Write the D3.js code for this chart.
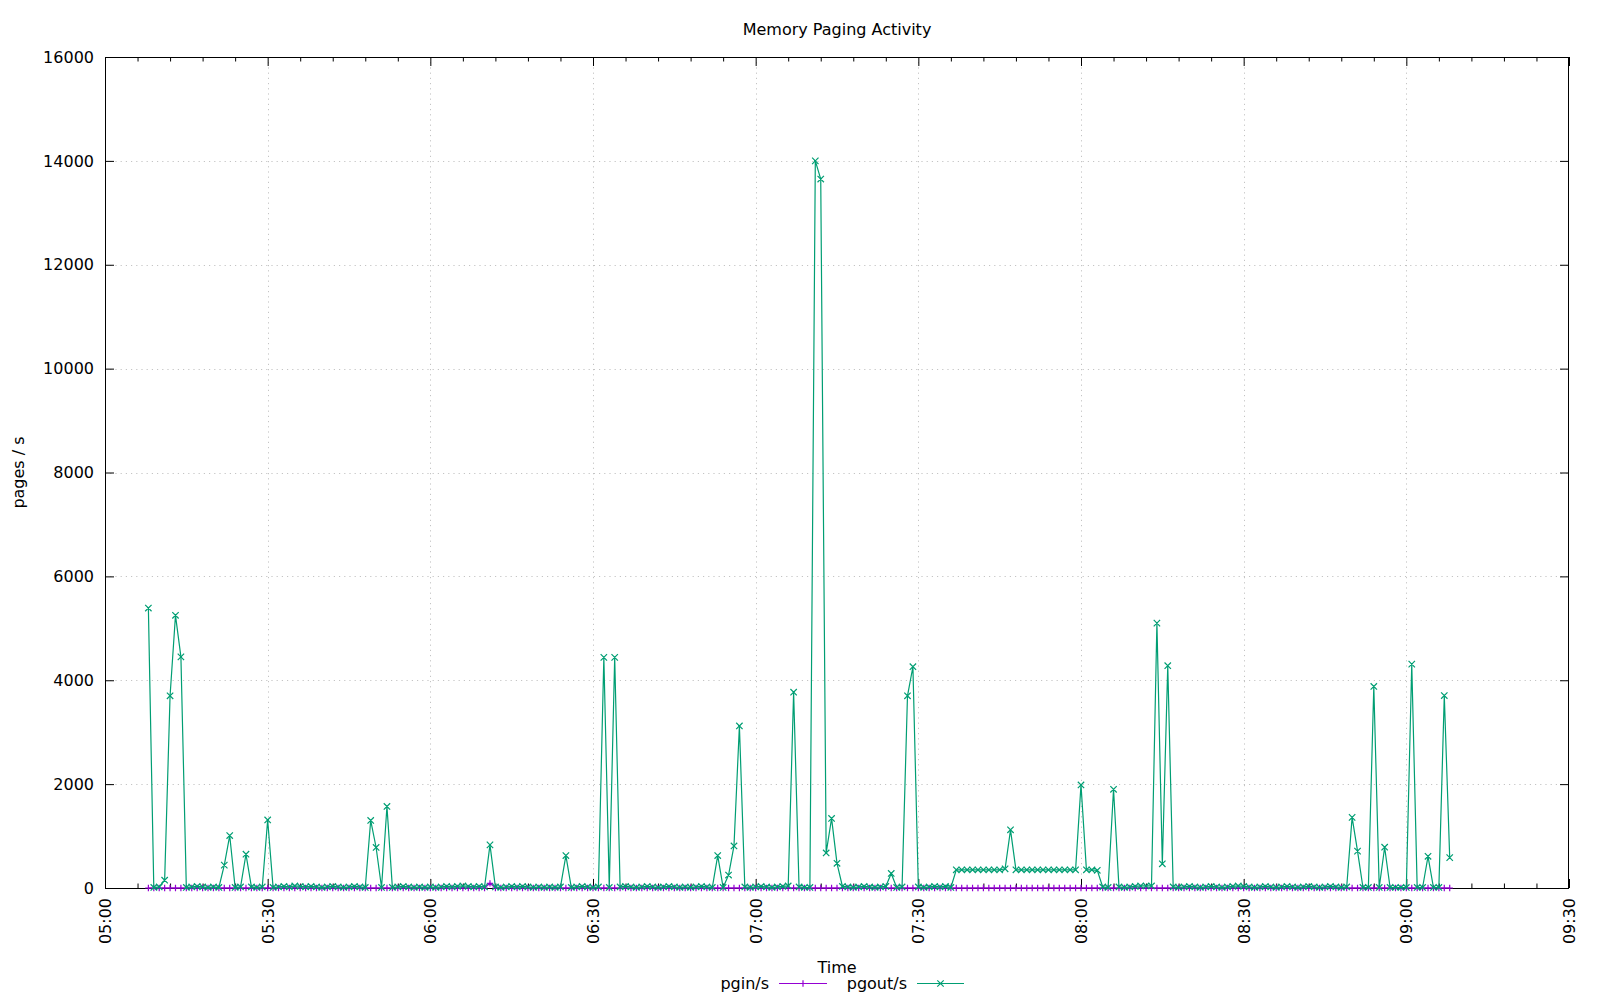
<!DOCTYPE html>
<html>
<head>
<meta charset="utf-8">
<script src="https://cdn.jsdelivr.net/npm/d3@7"></script>
<style>
  body { margin: 0; background: #fff; }
  svg text { font-family: "DejaVu Sans", sans-serif; font-size: 16px; fill: #000; }
</style>
</head>
<body>
<svg id="chart" width="1600" height="1000"></svg>
<script>
// ---------- DATA ----------
const times = [
  "05:08","05:09","05:10","05:11","05:12","05:13","05:14","05:15","05:16","05:17","05:18","05:19","05:20","05:21","05:22","05:23","05:24","05:25","05:26","05:27","05:28","05:29","05:30","05:31","05:32","05:33","05:34","05:35","05:36","05:37","05:38","05:39","05:40","05:41","05:42","05:43","05:44","05:45","05:46","05:47","05:48","05:49","05:50","05:51","05:52","05:53","05:54","05:55","05:56","05:57","05:58","05:59",
  "06:00","06:01","06:02","06:03","06:04","06:05","06:06","06:07","06:08","06:09","06:10","06:11","06:12","06:13","06:14","06:15","06:16","06:17","06:18","06:19","06:20","06:21","06:22","06:23","06:24","06:25","06:26","06:27","06:28","06:29","06:30","06:31","06:32","06:33","06:34","06:35","06:36","06:37","06:38","06:39","06:40","06:41","06:42","06:43","06:44","06:45","06:46","06:47","06:48","06:49","06:50","06:51","06:52","06:53","06:54","06:55","06:56","06:57","06:58","06:59",
  "07:00","07:01","07:02","07:03","07:04","07:05","07:06","07:07","07:08","07:09","07:10","07:11","07:12","07:13","07:14","07:15","07:16","07:17","07:18","07:19","07:20","07:21","07:22","07:23","07:24","07:25","07:26","07:27","07:28","07:29","07:30","07:31","07:32","07:33","07:34","07:35","07:36","07:37","07:38","07:39","07:40","07:41","07:42","07:43","07:44","07:45","07:46","07:47","07:48","07:49","07:50","07:51","07:52","07:53","07:54","07:55","07:56","07:57","07:58","07:59",
  "08:00","08:01","08:02","08:03","08:04","08:05","08:06","08:07","08:08","08:09","08:10","08:11","08:12","08:13","08:14","08:15","08:16","08:17","08:18","08:19","08:20","08:21","08:22","08:23","08:24","08:25","08:26","08:27","08:28","08:29","08:30","08:31","08:32","08:33","08:34","08:35","08:36","08:37","08:38","08:39","08:40","08:41","08:42","08:43","08:44","08:45","08:46","08:47","08:48","08:49","08:50","08:51","08:52","08:53","08:54","08:55","08:56","08:57","08:58","08:59",
  "09:00","09:01","09:02","09:03","09:04","09:05","09:06","09:07","09:08"
];

const pgout = [
  // 05:08 - 05:59
  5390,10,20,150,3700,5250,4450,10,20,30,20,10,20,10,440,1010,10,20,650,20,10,20,1310,10,20,30,20,40,30,20,30,20,10,20,30,20,10,20,30,20,10,1300,780,10,1570,10,20,30,20,10,20,10,
  // 06:00 - 06:59
  20,10,20,30,20,30,40,30,20,30,20,830,20,10,20,30,20,30,20,10,20,10,20,10,20,625,10,20,30,20,10,20,4440,10,4440,20,30,20,10,20,30,20,10,20,30,20,10,20,10,20,30,20,10,625,10,250,810,3120,20,10,
  // 07:00 - 07:59
  20,30,20,10,20,30,40,3770,20,10,10,14000,13650,675,1340,475,30,20,10,20,30,20,10,20,30,280,10,20,3700,4260,20,10,20,30,20,30,10,350,350,350,350,350,350,350,350,350,370,1120,350,350,350,350,350,350,350,350,350,350,350,350,
  // 08:00 - 08:59
  1985,350,350,340,20,10,1900,20,10,20,30,40,40,40,5100,465,4280,20,10,20,30,20,10,20,30,20,10,20,30,40,30,20,10,20,30,20,10,20,30,20,10,20,30,20,10,20,30,20,10,20,1360,710,10,10,3880,10,785,10,10,10,
  // 09:00 - 09:08
  10,4310,10,10,610,10,10,3705,585
];

const pgin = [
  // 05:08 - 05:59
  0,0,0,0,0,0,0,0,0,0,0,0,0,0,0,0,0,0,0,0,0,0,0,0,0,0,0,0,0,0,0,0,0,0,0,0,0,0,0,0,0,0,0,0,0,0,0,0,0,0,0,0,
  // 06:00 - 06:59
  0,0,0,0,0,0,0,0,0,0,0,90,0,0,0,0,0,0,0,0,0,0,0,0,0,0,0,0,0,0,0,0,0,0,0,0,0,0,0,0,0,0,0,0,0,0,0,0,0,0,0,0,0,0,0,0,0,0,0,0,
  // 07:00 - 07:59
  0,0,0,0,0,0,0,0,0,0,0,0,0,0,0,0,0,0,0,0,0,0,0,0,0,0,0,0,0,0,0,0,0,0,0,0,0,0,0,0,0,0,0,0,0,0,0,0,0,0,0,0,0,0,0,0,0,0,0,0,
  // 08:00 - 08:59
  0,0,0,0,0,0,0,0,0,0,0,0,0,0,0,0,0,0,0,0,0,0,0,0,0,0,0,0,0,0,0,0,0,0,0,0,0,0,0,0,0,0,0,0,0,0,0,0,0,0,0,0,0,0,0,0,0,0,0,0,
  // 09:00 - 09:08
  0,0,0,0,0,0,0,0,0
];

const seriesNames = ["pgin/s", "pgout/s"];
const seriesColors = ["#9400d3", "#009e73"];
const xTickLabels = ["05:00","05:30","06:00","06:30","07:00","07:30","08:00","08:30","09:00","09:30"];
const yTickValues = [0,2000,4000,6000,8000,10000,12000,14000,16000];
const titleText = "Memory Paging Activity";
const xAxisTitle = "Time";
const yAxisTitle = "pages / s";

(function () {
// ---------- LAYOUT ----------
const pL = 105, pR = 1569, pT = 57, pB = 888;
const svg = d3.select("#chart");
const parse = d3.timeParse("%H:%M");

const x = d3.scaleTime()
  .domain([parse(xTickLabels[0]), parse(xTickLabels[xTickLabels.length - 1])])
  .range([pL, pR]);
const y = d3.scaleLinear()
  .domain([yTickValues[0], yTickValues[yTickValues.length - 1]])
  .range([pB, pT]);

const xTicks = xTickLabels.map(parse);
const minorTicks = d3.timeMinute.every(6).range(x.domain()[0], x.domain()[1]).filter(d => d.getMinutes() % 30 !== 0);

// grid
const grid = svg.append("g").attr("stroke", "#c4c4c4").attr("stroke-width", 1).attr("stroke-dasharray", "1.2,4");
grid.selectAll("line.gx").data(xTicks.slice(1, -1)).join("line")
  .attr("x1", d => Math.round(x(d)) + 0.5).attr("x2", d => Math.round(x(d)) + 0.5)
  .attr("y1", pT).attr("y2", pB);
grid.selectAll("line.gy").data(yTickValues.slice(1, -1)).join("line")
  .attr("y1", d => Math.round(y(d)) + 0.5).attr("y2", d => Math.round(y(d)) + 0.5)
  .attr("x1", pL).attr("x2", pR);

// axes
function styleAxis(g) {
  g.select(".domain").remove();
  g.selectAll("line").attr("stroke", "#000");
}
const xAxisB = svg.append("g").attr("transform", `translate(0,${pB})`)
  .call(d3.axisBottom(x).tickValues(xTicks).tickFormat(d3.timeFormat("%H:%M")).tickSizeInner(-9).tickSizeOuter(0).tickPadding(10))
  .call(styleAxis);
xAxisB.selectAll("text")
  .attr("x", 0).attr("y", 0).attr("dy", "0.35em")
  .attr("transform", "translate(0,10) rotate(-90)")
  .style("text-anchor", "end")
  .attr("font-size", 16).attr("font-family", "DejaVu Sans, sans-serif");
svg.append("g").attr("transform", `translate(0,${pB})`)
  .call(d3.axisBottom(x).tickValues(minorTicks).tickFormat("").tickSizeInner(-4.5).tickSizeOuter(0))
  .call(styleAxis);
svg.append("g").attr("transform", `translate(0,${pT})`)
  .call(d3.axisTop(x).tickValues(xTicks).tickFormat("").tickSizeInner(-9).tickSizeOuter(0))
  .call(styleAxis);
svg.append("g").attr("transform", `translate(0,${pT})`)
  .call(d3.axisTop(x).tickValues(minorTicks).tickFormat("").tickSizeInner(-4.5).tickSizeOuter(0))
  .call(styleAxis);
const yAxisL = svg.append("g").attr("transform", `translate(${pL},0)`)
  .call(d3.axisLeft(y).tickValues(yTickValues).tickFormat(d3.format("d")).tickSizeInner(-9).tickSizeOuter(0).tickPadding(11))
  .call(styleAxis);
yAxisL.selectAll("text").attr("font-size", 16).attr("font-family", "DejaVu Sans, sans-serif");
svg.append("g").attr("transform", `translate(${pR},0)`)
  .call(d3.axisRight(y).tickValues(yTickValues).tickFormat("").tickSizeInner(-9).tickSizeOuter(0))
  .call(styleAxis);

// border
svg.append("rect").attr("x", pL + 0.5).attr("y", pT + 0.5)
  .attr("width", pR - pL - 1).attr("height", pB - pT)
  .attr("fill", "none").attr("stroke", "#000").attr("stroke-width", 1);

// series
const data = times.map((t, i) => ({ t: parse(t), pgin: pgin[i], pgout: pgout[i] }));
const keys = ["pgin", "pgout"];
const line = k => d3.line().x(d => x(d.t)).y(d => y(d[k]));

function plusPath(cx, cy, s) { return `M${cx - s},${cy}H${cx + s}M${cx},${cy - s}V${cy + s}`; }
function crossPath(cx, cy, s) { return `M${cx - s},${cy - s}L${cx + s},${cy + s}M${cx - s},${cy + s}L${cx + s},${cy - s}`; }
const markers = [plusPath, crossPath];

keys.forEach((k, si) => {
  const g = svg.append("g");
  g.append("path").datum(data).attr("d", line(k))
    .attr("fill", "none").attr("stroke", seriesColors[si]).attr("stroke-width", 1.2);
  g.append("path")
    .attr("d", data.map(d => markers[si](x(d.t), y(d[k]), 3.2)).join(""))
    .attr("fill", "none").attr("stroke", seriesColors[si]).attr("stroke-width", 1.2);
});

// titles
svg.append("text").attr("x", (pL + pR) / 2).attr("y", 35).attr("text-anchor", "middle").text(titleText);
svg.append("text").attr("x", (pL + pR) / 2).attr("y", 973).attr("text-anchor", "middle").text(xAxisTitle);
svg.append("text").attr("transform", `translate(24,${(pT + pB) / 2}) rotate(-90)`)
  .attr("text-anchor", "middle").text(yAxisTitle);

// legend
const legendItems = [
  { name: seriesNames[0], color: seriesColors[0], textRight: 769, x1: 779, x2: 827, marker: markers[0] },
  { name: seriesNames[1], color: seriesColors[1], textRight: 907, x1: 917, x2: 964, marker: markers[1] }
];
const ly = 983;
legendItems.forEach(it => {
  svg.append("text").attr("x", it.textRight).attr("y", ly).attr("dy", "0.35em")
    .attr("text-anchor", "end").text(it.name);
  svg.append("line").attr("x1", it.x1).attr("x2", it.x2).attr("y1", ly + 0.5).attr("y2", ly + 0.5)
    .attr("stroke", it.color).attr("stroke-width", 1.2);
  svg.append("path").attr("d", it.marker((it.x1 + it.x2) / 2, ly + 0.5, 3.2))
    .attr("fill", "none").attr("stroke", it.color).attr("stroke-width", 1.2);
});
})();
</script>
</body>
</html>
